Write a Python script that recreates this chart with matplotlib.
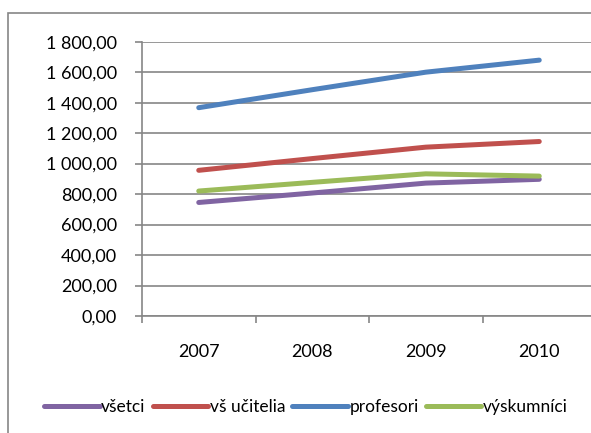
import matplotlib.pyplot as plt
from matplotlib.patches import Rectangle
from matplotlib.ticker import FuncFormatter

roky = ['2007', '2008', '2009', '2010']
vsetci = [745, 807, 872, 897]
vs_ucitelia = [956, 1033, 1108, 1145]
profesori = [1367, 1485, 1600, 1679]
vyskumnici = [820, 877, 933, 918]

nazvy = ['všetci', 'vš učitelia', 'profesori', 'výskumníci']
farby = ['#8064A2', '#C0504D', '#4F81BD', '#9BBB59']

plt.rcParams['font.family'] = ['Lato', 'DejaVu Sans']

W, H = 591, 433
fig = plt.figure(figsize=(W / 100, H / 100), dpi=100)

# ramik grafu (Excel okraj, vpravo a dole orezany)
fig.patches.append(Rectangle((8 / W, -0.1), 1.2, 1 - 13 / H + 0.1, transform=fig.transFigure,
                             fill=False, edgecolor='#868686', lw=1.2))

ax = fig.add_axes([142 / W, 1 - 316 / H, (596 - 142) / W, (316 - 41.7) / H])

x = [i + 0.5 for i in range(len(roky))]
for data, nazov, farba in zip([vsetci, vs_ucitelia, profesori, vyskumnici], nazvy, farby):
    ax.plot(x, data, color=farba, lw=3.6, solid_capstyle='round', solid_joinstyle='round',
            label=nazov, clip_on=False)

ax.set_xlim(0, 4)
ax.set_ylim(0, 1800)
ax.set_yticks(range(0, 1801, 200))
ax.yaxis.set_major_formatter(FuncFormatter(lambda v, p: f'{v:,.2f}'.replace(',', ' ').replace('.', ',')))
ax.set_xticks([0, 1, 2, 3, 4])
ax.set_xticklabels([])
ax.set_xticks(x, minor=True)
ax.set_xticklabels(roky, minor=True)
ax.tick_params(axis='x', which='minor', length=0, pad=20, labelsize=13)
ax.tick_params(axis='x', which='major', length=5, color='#868686', width=1.2)
ax.tick_params(axis='y', length=5, color='#868686', width=1.2, labelsize=13, pad=13)

ax.grid(axis='y', color='#868686', lw=1.2)
ax.set_axisbelow(True)
for s in ['top', 'right']:
    ax.spines[s].set_visible(False)
for s in ['left', 'bottom']:
    ax.spines[s].set_color('#868686')
    ax.spines[s].set_linewidth(1.2)

fig.legend(loc='center', bbox_to_anchor=(306 / W, 1 - 407 / H), ncol=4, frameon=False,
           fontsize=12.5, handlelength=3.2, handletextpad=0.1, columnspacing=0.4)

fig.savefig('out.png', dpi=100)
